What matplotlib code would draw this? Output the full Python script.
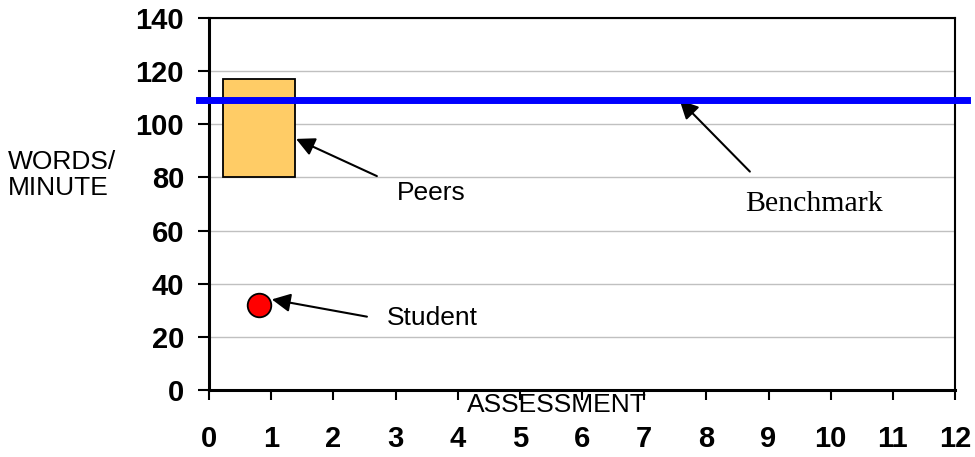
import numpy as np
import matplotlib
matplotlib.use("Agg")
import matplotlib.pyplot as plt

plt.rcParams['font.family'] = ['Liberation Sans', 'DejaVu Sans']

# data
assessment_ticks = np.arange(0, 13, 1)
wpm_ticks = np.arange(0, 141, 20)
benchmark = 109
peer_x = 0.8
peer_low = 80
peer_high = 117
student_x = 0.8
student_wpm = 32

fig = plt.figure(figsize=(9.75, 4.57), dpi=100)
ax = fig.add_axes([0.2144, 0.1466, 0.7651, 0.814])
ax.set_xlim(0, 12)
ax.set_ylim(0, 140)

ax.set_axisbelow(True)
ax.yaxis.grid(True, color='#c0c0c0', linewidth=1.0)

# peers box
ax.bar(peer_x, peer_high - peer_low, bottom=peer_low, width=1.16,
       color='#ffcc66', edgecolor='black', linewidth=1.3, zorder=3)

# benchmark line, runs a little past both sides of the frame
ax.axhline(benchmark, xmin=-0.014, xmax=1.016, color='#0000ff',
           linewidth=5, clip_on=False, zorder=4)

# student point
ax.plot(student_x, student_wpm, marker='o', markersize=17,
        markerfacecolor='#ff0000', markeredgecolor='black',
        markeredgewidth=1.3, linestyle='none', zorder=5)

arrow = dict(arrowstyle='-|>', color='black', linewidth=1.5,
             mutation_scale=28, shrinkA=0, shrinkB=0)
ax.annotate('', xy=(1.40, 94.5), xytext=(2.70, 80.5), arrowprops=arrow)
ax.annotate('', xy=(1.01, 34.1), xytext=(2.54, 27.6), arrowprops=arrow)
ax.annotate('', xy=(7.57, 109.1), xytext=(8.70, 82.2), arrowprops=arrow)

ax.text(3.02, 74.1, "Peers", fontsize=19, va='center', ha='left')
ax.text(2.86, 27.1, "Student", fontsize=19, va='center', ha='left')
ax.text(8.63, 70.0, "Benchmark", fontsize=21.5, va='center', ha='left',
        family=['Liberation Serif', 'DejaVu Serif'])
ax.text(4.15, -5.8, "ASSESSMENT", fontsize=19, va='center', ha='left',
        clip_on=False)
fig.text(0.008, 0.617, "WORDS/\nMINUTE", fontsize=19, va='center',
         ha='left', linespacing=1.15)

ax.set_xticks(assessment_ticks)
ax.set_yticks(wpm_ticks)
ax.tick_params(axis='x', direction='out', length=7.5, width=1.5, pad=17.5,
               labelsize=21)
ax.tick_params(axis='y', direction='out', length=8, width=1.5, pad=10,
               labelsize=21)
for lab in ax.get_xticklabels() + ax.get_yticklabels():
    lab.set_fontweight('bold')

for side in ['left', 'bottom']:
    ax.spines[side].set_linewidth(2.2)
for side in ['top', 'right']:
    ax.spines[side].set_linewidth(1.5)

fig.savefig("out.png", dpi=100)
